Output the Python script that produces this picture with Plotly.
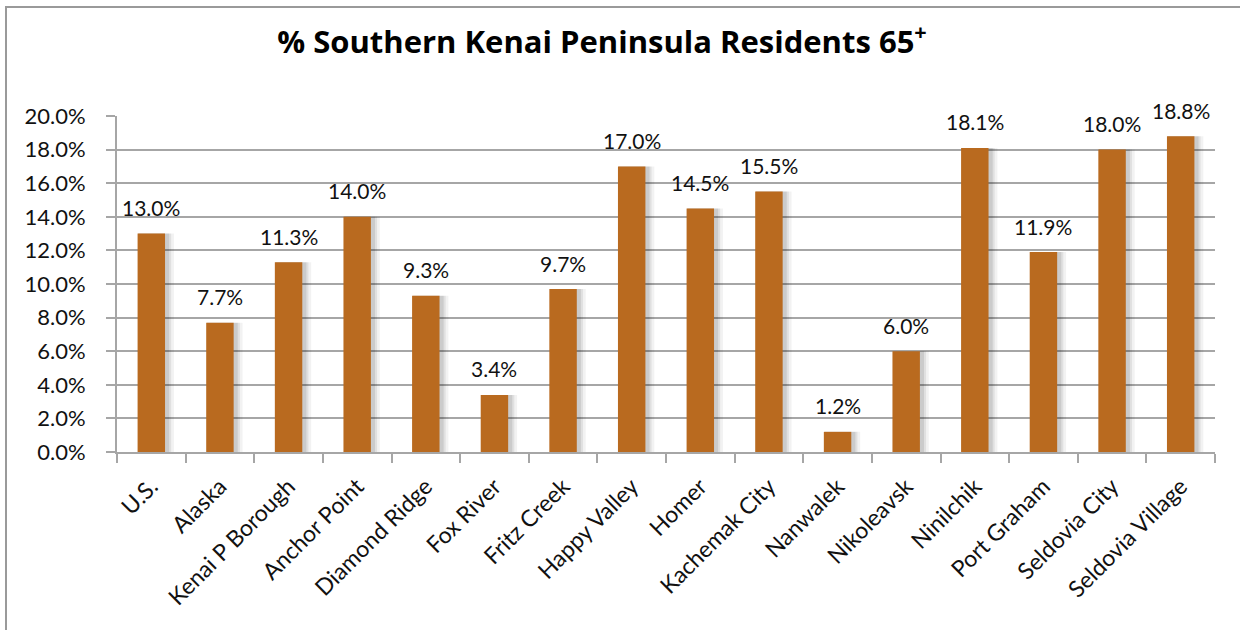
import plotly.graph_objects as go

categories = ["U.S.", "Alaska", "Kenai P Borough", "Anchor Point", "Diamond Ridge",
              "Fox River", "Fritz Creek", "Happy Valley", "Homer", "Kachemak City",
              "Nanwalek", "Nikoleavsk", "Ninilchik", "Port Graham", "Seldovia City",
              "Seldovia Village"]
values = [13.0, 7.7, 11.3, 14.0, 9.3, 3.4, 9.7, 17.0, 14.5, 15.5, 1.2, 6.0, 18.1, 11.9, 18.0, 18.8]
y_ticks = [0, 2, 4, 6, 8, 10, 12, 14, 16, 18, 20]
y_tick_labels = [f"{v:.1f}%" for v in y_ticks]
title_text = "% Southern Kenai Peninsula Residents 65<sup>+</sup>"

BAR = "#B96A1F"
GRID = "#A6A6A6"
FONT = "Lato, Calibri, sans-serif"

fig = go.Figure()
# soft shadow layers to the right of each bar
for k, (w, a) in enumerate([(0.52, 0.05), (0.48, 0.07), (0.45, 0.09)]):
    fig.add_trace(go.Bar(
        x=categories, y=values, marker=dict(color=f"rgba(0,0,0,{a})", line=dict(width=0)),
        width=w, offset=-0.19, hoverinfo="skip", showlegend=False,
    ))
fig.add_trace(go.Bar(
    x=categories, y=values, marker=dict(color=BAR, line=dict(width=0)),
    width=0.4, offset=-0.2, hoverinfo="skip", showlegend=False,
))

for c, v in zip(categories, values):
    fig.add_annotation(x=c, y=v, text=f"{v:.1f}%", showarrow=False,
                       yanchor="middle", yshift=26,
                       font=dict(family=FONT, size=21, color="#111111"))

# outer frame
W, H = 1240, 630
l, r, t, b = 117, 25, 116, 178
pw, ph = W - l - r, H - t - b
fig.add_shape(type="rect", xref="paper", yref="paper",
              x0=(6 - l) / pw, x1=(W + 10 - l) / pw,
              y0=(H - b - (H + 10)) / ph, y1=(H - b - 7) / ph,
              line=dict(color="#9A9A9A", width=2), fillcolor="rgba(0,0,0,0)", layer="below")

fig.update_layout(
    width=W, height=H,
    margin=dict(l=l, r=r, t=t, b=b),
    paper_bgcolor="white", plot_bgcolor="white",
    title=dict(text=title_text, x=602 / W, xanchor="center", y=1 - 42 / H, yanchor="middle",
               font=dict(family="Open Sans, Lato, sans-serif", size=31, color="#000000", weight="bold")),
    font=dict(family=FONT, size=22, color="#111111"),
    barmode="overlay",
)
fig.update_xaxes(
    type="category", tickangle=-45, tickson="boundaries",
    ticks="outside", ticklen=9, tickwidth=2, tickcolor=GRID,
    showline=True, linecolor=GRID, linewidth=2,
    showgrid=False, tickfont=dict(family=FONT, size=23, color="#111111"),
    ticklabelstandoff=10,
    range=[-0.5, len(categories) - 0.5],
)
fig.update_yaxes(
    range=[0, 20], tickvals=y_ticks, ticktext=y_tick_labels,
    ticks="outside", ticklen=9, tickwidth=2, tickcolor=GRID,
    showline=True, linecolor=GRID, linewidth=2,
    showgrid=True, gridcolor=GRID, gridwidth=2, zeroline=False,
    ticklabelstandoff=16,
    tickfont=dict(family=FONT, size=22, color="#111111"),
)

fig.write_html("out.html")
